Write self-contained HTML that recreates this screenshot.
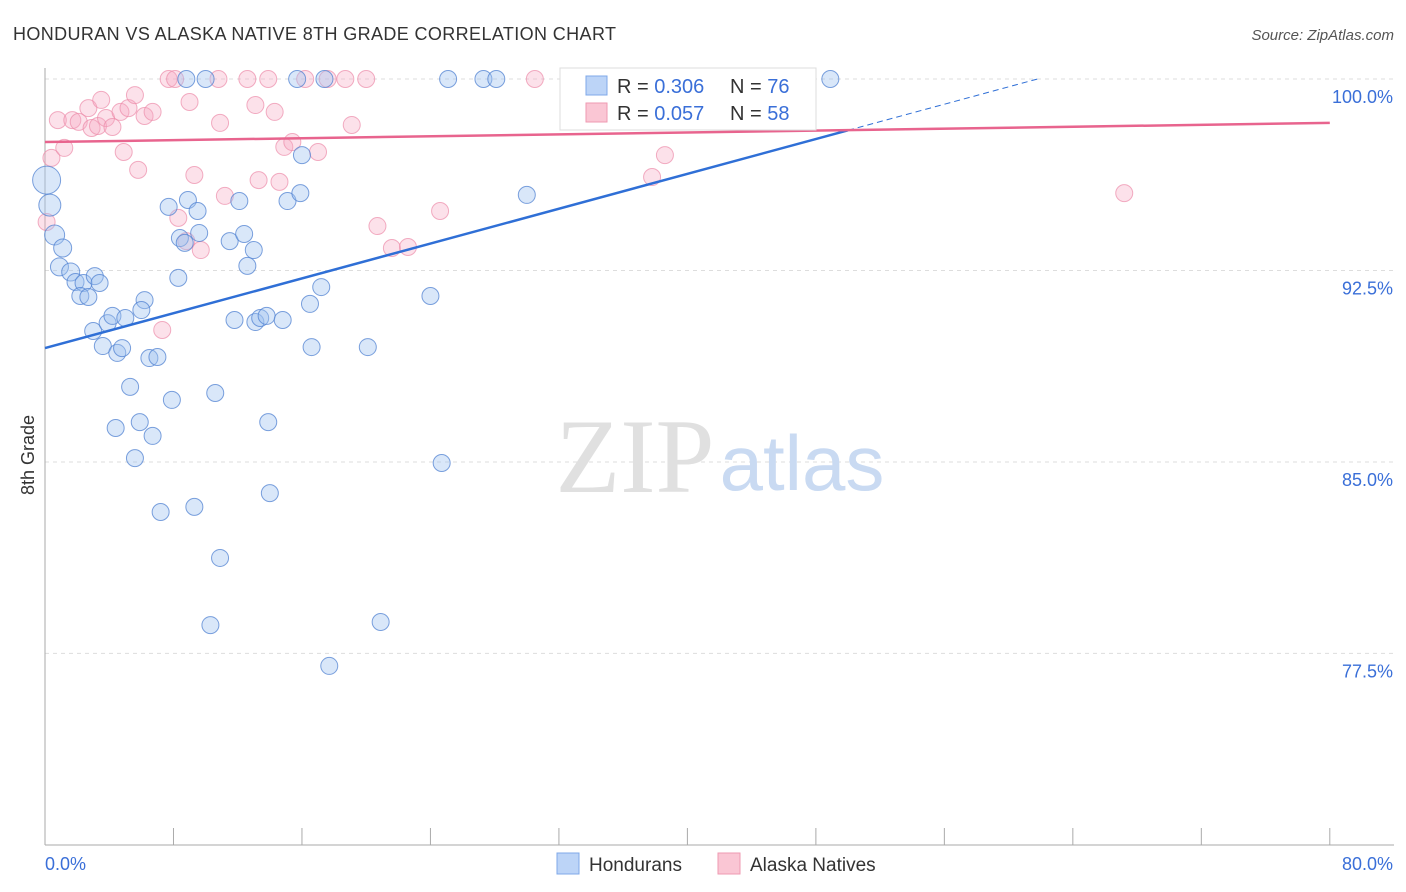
<!DOCTYPE html>
<html><head><meta charset="utf-8"><style>
body{margin:0;background:#fff;font-family:"Liberation Sans",sans-serif}
svg{display:block}
</style></head><body>
<svg id="c" width="1406" height="892">
<text x="13" y="40" font-size="18" fill="#333" textLength="603">HONDURAN VS ALASKA NATIVE 8TH GRADE CORRELATION CHART</text>
<text x="1394" y="40" font-size="15" fill="#555" font-style="italic" text-anchor="end">Source: ZipAtlas.com</text>
<g id="grid"></g>
<text x="635" y="492" font-size="106" fill="#e0e0e0" font-family="Liberation Serif" text-anchor="middle">ZIP</text>
<text x="802" y="490" font-size="78" fill="#c9daf2" text-anchor="middle">atlas</text>
<g id="pts"></g>
<g id="lines"></g>
<text x="34" y="455" font-size="18" fill="#333" transform="rotate(-90 34 455)" text-anchor="middle">8th Grade</text>
<g>
<rect x="560" y="68" width="256" height="62" fill="#fff" stroke="#ddd"/>
<rect x="586" y="76" width="21" height="19" fill="#bcd4f7" stroke="#7fa8e8"/>
<rect x="586" y="103" width="21" height="19" fill="#fac6d4" stroke="#ef9ab2"/>
<text x="617" y="93" font-size="20" fill="#333">R = <tspan fill="#3a6fd8">0.306</tspan></text>
<text x="730" y="93" font-size="20" fill="#333">N = <tspan fill="#3a6fd8">76</tspan></text>
<text x="617" y="120" font-size="20" fill="#333">R = <tspan fill="#3a6fd8">0.057</tspan></text>
<text x="730" y="120" font-size="20" fill="#333">N = <tspan fill="#3a6fd8">58</tspan></text>
</g>
<g>
<rect x="557" y="853" width="22" height="21" fill="#bcd4f7" stroke="#7fa8e8"/>
<text x="589" y="871" font-size="19" fill="#333">Hondurans</text>
<rect x="718" y="853" width="22" height="21" fill="#fac6d4" stroke="#ef9ab2"/>
<text x="750" y="871" font-size="19" fill="#333">Alaska Natives</text>
</g>
</svg>
<script>
const yTicks=[100,92.5,85,77.5];
const yTickLabels=["100.0%","92.5%","85.0%","77.5%"];
const xLabels=["0.0%","80.0%"];
const blueX=[0.1,0.3,0.6,1.1,0.9,1.6,1.9,2.4,3.1,3.4,2.2,2.7,3.0,3.6,3.9,4.2,4.5,4.8,5.0,5.3,4.4,5.6,5.9,6.2,6.0,6.5,7.0,6.7,7.2,7.7,7.9,8.3,8.4,8.9,8.7,9.5,9.6,9.3,8.8,10.0,10.3,10.6,10.9,11.5,11.8,12.1,12.4,12.6,13.0,13.1,13.4,13.8,13.9,14.0,14.8,15.1,15.7,15.9,16.0,16.5,16.6,17.2,17.4,17.7,20.1,20.9,24.0,24.7,25.1,27.3,28.1,30.0,41.6,48.9];
const blueY=[96.04,95.06,93.89,93.38,92.64,92.44,92.05,92.01,92.28,92.01,91.5,91.46,90.13,89.54,90.44,90.72,89.27,89.46,90.64,87.94,86.33,85.15,86.56,91.34,90.95,89.07,89.11,86.02,83.04,94.99,87.43,92.21,93.77,95.26,93.58,94.83,93.97,83.24,100,100,78.61,87.7,81.24,93.65,90.56,95.22,93.93,92.68,93.3,90.48,90.64,90.72,86.56,83.78,90.56,95.22,100,95.53,97.02,91.19,89.5,91.85,100,77.01,89.5,78.73,91.5,84.96,100,100,100,95.46,100,100];
const blueR=[14,11,10,9,9,9];
const pinkX=[0.1,0.4,0.8,1.2,1.7,2.1,2.7,2.9,3.3,3.5,3.8,4.2,4.7,4.9,5.2,5.6,5.8,6.2,6.7,7.3,7.7,8.1,8.3,8.8,9.0,9.3,9.7,10.8,10.9,11.2,12.6,13.1,13.3,13.9,14.3,14.6,14.9,15.4,16.2,17.0,17.6,18.7,19.1,20.0,20.7,21.6,22.6,24.6,30.5,32.9,37.8,38.6,44.5,45.1,67.2];
const pinkY=[94.4,96.91,98.39,97.3,98.39,98.32,98.86,98.08,98.16,99.18,98.47,98.12,98.71,97.14,98.86,99.37,96.44,98.55,98.71,90.17,100,100,94.56,93.65,99.1,96.24,93.3,100,98.28,95.42,100,98.98,96.04,100,98.71,95.97,97.34,97.53,100,97.14,100,100,98.2,100,94.24,93.38,93.42,94.83,100,98.55,96.16,97.02,100,100,95.53];
const blueLine=[89.46,97.99,103.1];
const blueLineX=[0,50,62];
const pinkLine=[97.53,98.28];
const X=v=>45+v*16.06, Y=v=>79+(100-v)*25.53;
const NS="http://www.w3.org/2000/svg";
function mk(t,a,p){const e=document.createElementNS(NS,t);for(const k in a)e.setAttribute(k,a[k]);p.appendChild(e);return e;}
const grid=document.getElementById('grid');
yTicks.forEach((t,i)=>{
 const l=mk('line',{x1:45,x2:1394,y1:Y(t),y2:Y(t),stroke:'#ddd','stroke-dasharray':'4,4'},grid);
 
 
 const tx=mk('text',{x:1393,y:Y(t)+24,'font-size':18,fill:'#3a6fd8','text-anchor':'end'},grid);
 tx.textContent=yTickLabels[i];
 
 
});
const ax=mk('line',{x1:45,x2:45,y1:68,y2:845,stroke:'#aaa'},grid);


const bx=mk('line',{x1:45,x2:1394,y1:845,y2:845,stroke:'#aaa'},grid);


for(let i=0;i<=10;i++){const t=mk('line',{x1:X(i*8),x2:X(i*8),y1:828,y2:845,stroke:'#aaa'},grid);
 
 }
[[0,'start',45],[80,'end',1393]].forEach((d,i)=>{const t=mk('text',{x:d[2],y:870,'font-size':18,fill:'#3a6fd8','text-anchor':d[1]},grid);t.textContent=xLabels[i];
 
 });
const pts=document.getElementById('pts');
pinkX.forEach((x,i)=>{const c=mk('circle',{cx:X(x),cy:Y(pinkY[i]),r:8.5,fill:'rgba(246,170,195,0.35)',stroke:'rgba(236,140,170,0.7)'},pts);
 
 });
blueX.forEach((x,i)=>{const c=mk('circle',{cx:X(x),cy:Y(blueY[i]),r:blueR[i]||8.5,fill:'rgba(160,195,240,0.4)',stroke:'rgba(80,130,210,0.75)'},pts);
 
 });
const lines=document.getElementById('lines');
const b1=mk('line',{x1:X(blueLineX[0]),y1:Y(blueLine[0]),x2:X(blueLineX[1]),y2:Y(blueLine[1]),stroke:'#2f6fd6','stroke-width':2.5},lines);


const t2=blueLine[1]+(blueLine[2]-blueLine[1])*(blueLineX[2]-50)/30;
const b2=mk('line',{x1:X(blueLineX[1]),y1:Y(blueLine[1]),x2:X(blueLineX[2]),y2:Y(t2),stroke:'#2f6fd6','stroke-width':1,'stroke-dasharray':'6,4'},lines);


const p1=mk('line',{x1:X(0),y1:Y(pinkLine[0]),x2:X(80),y2:Y(pinkLine[1]),stroke:'#e8648e','stroke-width':2.5},lines);


</script>
</body></html>
